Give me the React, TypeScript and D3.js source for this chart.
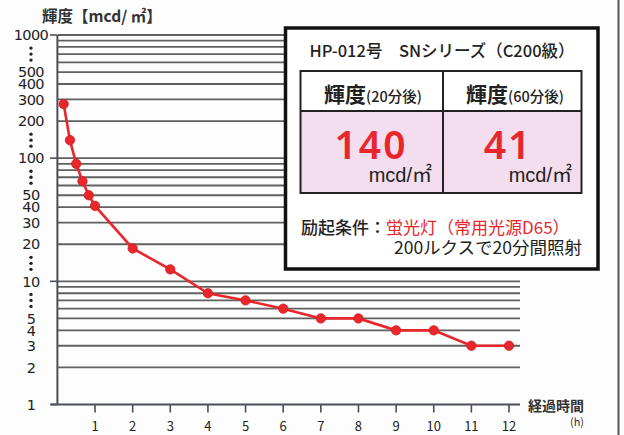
import React from "react";
import * as d3 from "d3";

const hours = [1 / 6, 2 / 6, 3 / 6, 4 / 6, 5 / 6, 1, 2, 3, 4, 5, 6, 7, 8, 9, 10, 11, 12];
const luminance = [275, 140, 90, 65, 50, 41, 18.5, 12.5, 8, 7, 6, 5, 5, 4, 4, 3, 3];
const xTicks = [1, 2, 3, 4, 5, 6, 7, 8, 9, 10, 11, 12];
const yGrid = [2, 3, 4, 5, 6, 7, 8, 9, 10, 20, 30, 40, 50, 60, 70, 80, 90, 100, 200, 300, 400, 500, 600, 700, 800, 900, 1000];
const yLabels = [1000, 500, 400, 300, 200, 100, 50, 40, 30, 20, 10, 5, 4, 3, 2, 1];
const yMajor = [1, 10, 100, 1000];
const yDots = [700, 140, 70, 14, 7];

const FONT = "'Noto Sans CJK JP', 'Noto Sans', sans-serif";

export default function App() {
  const x = d3.scaleLinear().domain([0, 12]).range([57.4, 509]);
  const y = d3.scaleLog().domain([1, 1000]).range([404.5, 35]);
  const line = d3
    .line<number>()
    .x((_, i) => x(hours[i]))
    .y((d) => y(d));
  const red = "#e8262b";
  const gridColor = "#606060";
  const axisColor = "#4a4f5a";

  return (
    <svg
      width={624}
      height={435}
      style={{ position: "absolute", left: 0, top: 0, background: "#fdfdfd" }}
      fontFamily={FONT}
    >
      {/* right page edge */}
      <line x1={618.5} x2={618.5} y1={0} y2={435} stroke="#555" strokeWidth={2} />

      {/* y title */}
      <text x={42} y={22} fontSize={15.5} fontWeight={700} fill="#333">
        輝度【mcd/ ㎡】
      </text>

      {/* grid */}
      {yGrid.map((v) => (
        <line key={v} x1={58} x2={520} y1={y(v)} y2={y(v)} stroke={gridColor} strokeWidth={1.8} />
      ))}
      {/* axes */}
      <line x1={57.4} x2={57.4} y1={y(1000)} y2={y(1)} stroke={axisColor} strokeWidth={2} />
      <line x1={51} x2={520} y1={y(1)} y2={y(1)} stroke={axisColor} strokeWidth={2} />
      {yMajor.map((v) => (
        <line key={v} x1={50} x2={57.4} y1={y(v)} y2={y(v)} stroke={axisColor} strokeWidth={1.6} />
      ))}
      {xTicks.map((t) => (
        <g key={t}>
          <line x1={x(t)} x2={x(t)} y1={y(1)} y2={y(1) + 8} stroke={axisColor} strokeWidth={1.6} />
          <text x={x(t)} y={431} fontSize={13} textAnchor="middle" fill="#222">
            {t}
          </text>
        </g>
      ))}
      {yLabels.map((v) => (
        <text
          key={v}
          x={31}
          y={y(v)}
          dy="0.36em"
          fontSize={14.5}
          fontFamily="'DejaVu Sans', sans-serif"
          letterSpacing={-0.6}
          textAnchor="middle"
          fill="#222"
        >
          {v}
        </text>
      ))}
      {yDots.map((v) => (
        <g key={v}>
          {[-6, 0, 6].map((o) => (
            <circle key={o} cx={31} cy={y(v) + o} r={1.7} fill="#222" />
          ))}
        </g>
      ))}
      <text x={528} y={411} fontSize={14} fontWeight={700} fill="#333">
        経過時間
      </text>
      <text x={577} y={426} fontSize={11} textAnchor="middle" fill="#333">
        (h)
      </text>

      {/* series */}
      <path d={line(luminance) || ""} fill="none" stroke={red} strokeWidth={2.6} />
      {luminance.map((v, i) => (
        <circle key={i} cx={x(hours[i])} cy={y(v)} r={4.7} fill={red} stroke="#d01f24" strokeWidth={0.8} />
      ))}

      {/* info box */}
      <rect x={285.5} y={28} width={312.5} height={241} fill="#ffffff" stroke="#111" strokeWidth={3.5} />
      <text x={442} y={57} fontSize={16.5} fontWeight={500} textAnchor="middle" fill="#222">
        HP-012号　SNシリーズ（C200級）
      </text>
      <rect x={300.5} y={111} width={281} height={82} fill="#f3ddef" />
      <rect x={300.5} y={71} width={281} height={122} fill="none" stroke="#222" strokeWidth={2} />
      <line x1={300.5} x2={581.5} y1={111} y2={111} stroke="#222" strokeWidth={2} />
      <line x1={443} x2={443} y1={71} y2={193} stroke="#222" strokeWidth={2} />
      <text x={373} y={102} textAnchor="middle" fill="#222">
        <tspan fontSize={21} fontWeight={700}>輝度</tspan>
        <tspan fontSize={14.5} fontWeight={500}>(20分後)</tspan>
      </text>
      <text x={515} y={102} textAnchor="middle" fill="#222">
        <tspan fontSize={21} fontWeight={700}>輝度</tspan>
        <tspan fontSize={14.5} fontWeight={500}>(60分後)</tspan>
      </text>
      <text x={371} y={159} fontSize={39} fontFamily="'Noto Sans', sans-serif" fontWeight={600} letterSpacing={2} textAnchor="middle" fill={red}>
        140
      </text>
      <text x={508} y={159} fontSize={39} fontFamily="'Noto Sans', sans-serif" fontWeight={600} letterSpacing={2} textAnchor="middle" fill={red}>
        41
      </text>
      <text x={432} y={182} fontSize={20} fontFamily="'Liberation Sans', 'Noto Sans CJK JP', sans-serif" textAnchor="end" fill="#222">
        mcd/㎡
      </text>
      <text x={572} y={182} fontSize={20} fontFamily="'Liberation Sans', 'Noto Sans CJK JP', sans-serif" textAnchor="end" fill="#222">
        mcd/㎡
      </text>
      <text x={301} y={234} fontSize={17} fill="#222">
        <tspan fontWeight={500}>励起条件：</tspan>
        <tspan fill={red}>蛍光灯（常用光源D65）</tspan>
      </text>
      <text x={582} y={254} fontSize={17.5} textAnchor="end" fill="#222">
        200ルクスで20分間照射
      </text>
    </svg>
  );
}
